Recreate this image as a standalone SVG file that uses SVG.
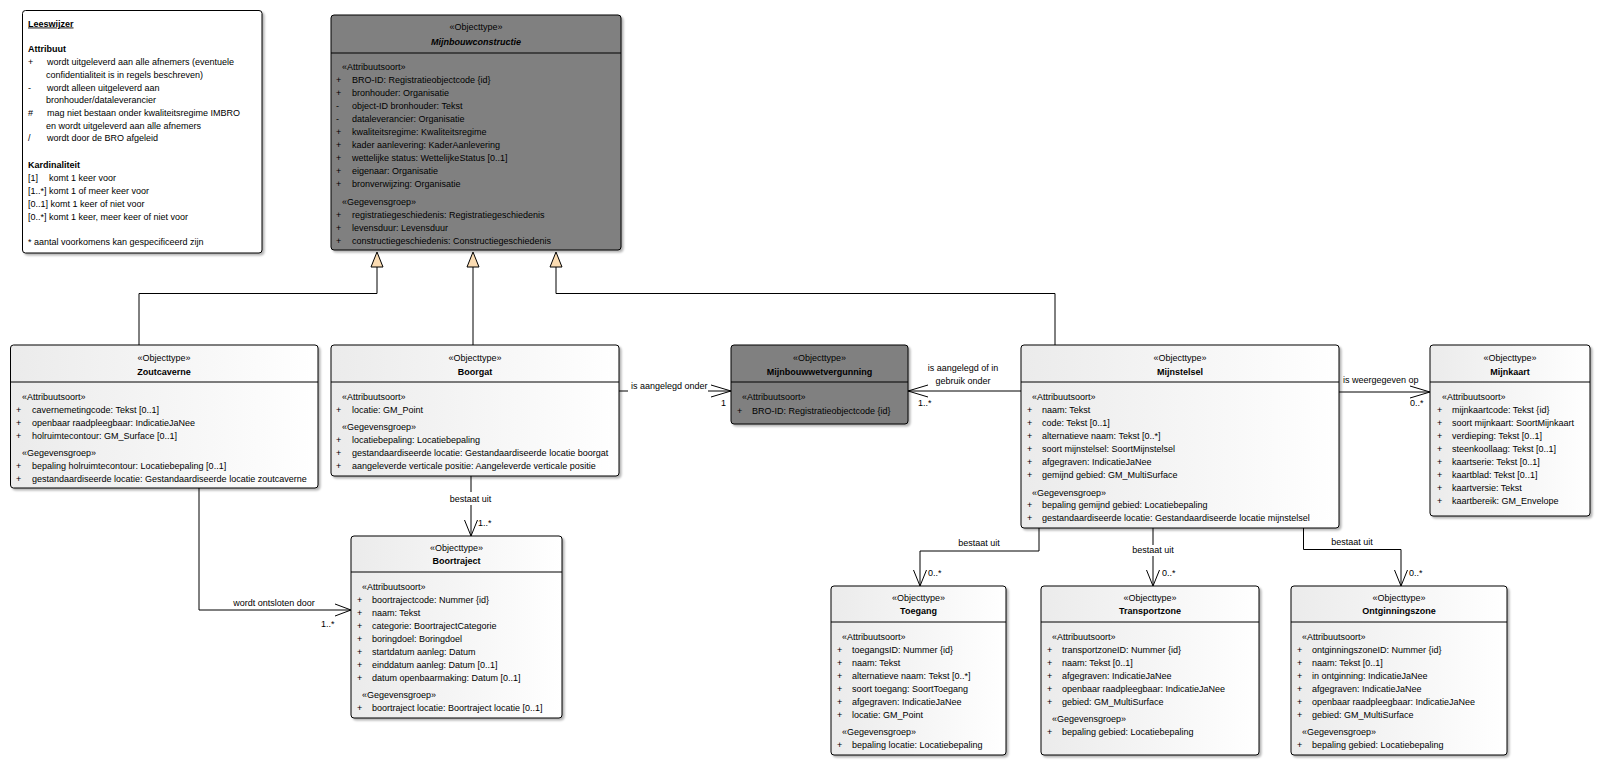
<svg xmlns="http://www.w3.org/2000/svg" width="1601" height="779" viewBox="0 0 1601 779">
<defs>
<linearGradient id="g" x1="0" y1="0" x2="1" y2="0">
<stop offset="0" stop-color="#ebebeb"/>
<stop offset="1" stop-color="#ffffff"/>
</linearGradient>
<filter id="sh" x="-5%" y="-5%" width="110%" height="115%">
<feDropShadow dx="2" dy="2" stdDeviation="1" flood-color="#000" flood-opacity="0.3"/>
</filter>
<style>
text{font-family:"Liberation Sans",Arial,sans-serif;font-size:9px;fill:#000}
.c{text-anchor:middle}
.b{font-weight:bold}
.box{fill:url(#g);stroke:#000;stroke-width:1;filter:url(#sh)}
.dark{fill:#808080;stroke:#000;stroke-width:1;filter:url(#sh)}
.note{fill:#fff;stroke:#000;stroke-width:1;filter:url(#sh)}
.sep{stroke:#000;stroke-width:1}
.ln{stroke:#000;stroke-width:1;fill:none}
.tri{fill:#fbdcb2;stroke:#000;stroke-width:1}
</style>
</defs>
<rect width="1601" height="779" fill="#fff"/>

<g id="leeswijzer">
<rect class="note" x="22.5" y="10.5" width="239.5" height="242.5" rx="3"/>
<text x="28" y="26.5" class="b" text-decoration="underline">Leeswijzer</text>
<text x="28" y="51.5" class="b">Attribuut</text>
<text x="28" y="65">+</text><text x="47" y="65">wordt uitgeleverd aan alle afnemers (eventuele</text>
<text x="46" y="77.5">confidentialiteit is in regels beschreven)</text>
<text x="28" y="90.5">-</text><text x="47" y="90.5">wordt alleen uitgeleverd aan</text>
<text x="46" y="103">bronhouder/dataleverancier</text>
<text x="28" y="116">#</text><text x="47" y="116">mag niet bestaan onder kwaliteitsregime IMBRO</text>
<text x="46" y="128.5">en wordt uitgeleverd aan alle afnemers</text>
<text x="28" y="141">/</text><text x="47" y="141">wordt door de BRO afgeleid</text>
<text x="28" y="168" class="b">Kardinaliteit</text>
<text x="28" y="181">[1]</text><text x="49" y="181">komt 1 keer voor</text>
<text x="28" y="194">[1..*] komt 1 of meer keer voor</text>
<text x="28" y="206.5">[0..1] komt 1 keer of niet voor</text>
<text x="28" y="219.5">[0..*] komt 1 keer, meer keer of niet voor</text>
<text x="28" y="245">* aantal voorkomens kan gespecificeerd zijn</text>
</g>

<g id="connectors">
<polyline class="ln" points="139,345 139,293.5 377,293.5 377,267"/>
<polygon class="tri" points="377,252 371,267 383,267"/>
<line class="ln" x1="473" y1="345" x2="473" y2="267"/>
<polygon class="tri" points="473,252 467,267 479,267"/>
<polyline class="ln" points="1055,345 1055,293.5 556,293.5 556,267"/>
<polygon class="tri" points="556,252 550,267 562,267"/>

<line class="ln" x1="619" y1="391" x2="628" y2="391"/>
<line class="ln" x1="708" y1="391" x2="731" y2="391"/>
<polyline class="ln" points="711,385 731,391 711,397"/>
<text x="631" y="389">is aangelegd onder</text>
<text x="721" y="405.5">1</text>

<line class="ln" x1="1021" y1="391" x2="908" y2="391"/>
<polyline class="ln" points="928,385 908,391 928,397"/>
<text x="963" y="370.5" class="c">is aangelegd of in</text>
<text x="963" y="384" class="c">gebruik onder</text>
<text x="918" y="405.5">1..*</text>

<line class="ln" x1="1339" y1="392" x2="1430" y2="392"/>
<polyline class="ln" points="1410,386 1430,392 1410,398"/>
<text x="1343" y="383">is weergegeven op</text>
<text x="1410" y="405.5">0..*</text>

<line class="ln" x1="471" y1="476" x2="471" y2="492"/>
<line class="ln" x1="471" y1="505" x2="471" y2="536"/>
<polyline class="ln" points="464.5,520 471,536 477.5,520"/>
<text x="470.5" y="502" class="c">bestaat uit</text>
<text x="478" y="526">1..*</text>

<polyline class="ln" points="199,488 199,610 351,610"/>
<polyline class="ln" points="335,604 351,610 335,616"/>
<text x="274" y="605.5" class="c">wordt ontsloten door</text>
<text x="321" y="627">1..*</text>

<polyline class="ln" points="1039,528 1039,551 920,551 920,586"/>
<polyline class="ln" points="913.5,570 920,586 926.5,570"/>
<text x="979" y="546" class="c">bestaat uit</text>
<text x="928" y="576">0..*</text>

<line class="ln" x1="1153" y1="528" x2="1153" y2="545"/>
<line class="ln" x1="1153" y1="556" x2="1153" y2="586"/>
<polyline class="ln" points="1146.5,570 1153,586 1159.5,570"/>
<text x="1153" y="553" class="c">bestaat uit</text>
<text x="1162" y="576">0..*</text>

<polyline class="ln" points="1303.5,528 1303.5,549.5 1401,549.5 1401,586"/>
<polyline class="ln" points="1394.5,570 1401,586 1407.5,570"/>
<text x="1352" y="545" class="c">bestaat uit</text>
<text x="1409" y="576">0..*</text>
</g>

<g id="mijnbouwconstructie">
<rect class="dark" x="331" y="15" width="290" height="235" rx="3"/>
<line class="sep" x1="331" y1="53" x2="621" y2="53"/>
<text x="476" y="30" class="c">«Objecttype»</text>
<text x="476" y="45" class="c b" font-style="italic">Mijnbouwconstructie</text>
<text x="342" y="70">«Attribuutsoort»</text>
<text x="336" y="83">+</text><text x="352" y="83">BRO-ID: Registratieobjectcode {id}</text>
<text x="336" y="96">+</text><text x="352" y="96">bronhouder: Organisatie</text>
<text x="336" y="109">-</text><text x="352" y="109">object-ID bronhouder: Tekst</text>
<text x="336" y="122">-</text><text x="352" y="122">dataleverancier: Organisatie</text>
<text x="336" y="135">+</text><text x="352" y="135">kwaliteitsregime: Kwaliteitsregime</text>
<text x="336" y="148">+</text><text x="352" y="148">kader aanlevering: KaderAanlevering</text>
<text x="336" y="161">+</text><text x="352" y="161">wettelijke status: WettelijkeStatus [0..1]</text>
<text x="336" y="174">+</text><text x="352" y="174">eigenaar: Organisatie</text>
<text x="336" y="187">+</text><text x="352" y="187">bronverwijzing: Organisatie</text>
<text x="342" y="205">«Gegevensgroep»</text>
<text x="336" y="217.5">+</text><text x="352" y="217.5">registratiegeschiedenis: Registratiegeschiedenis</text>
<text x="336" y="230.5">+</text><text x="352" y="230.5">levensduur: Levensduur</text>
<text x="336" y="243.5">+</text><text x="352" y="243.5">constructiegeschiedenis: Constructiegeschiedenis</text>
</g>

<g id="zoutcaverne">
<rect class="box" x="10.5" y="345" width="307.5" height="143" rx="3"/>
<line class="sep" x1="10.5" y1="382" x2="318" y2="382"/>
<text x="164" y="361" class="c">«Objecttype»</text>
<text x="164" y="375" class="c b">Zoutcaverne</text>
<text x="22" y="400">«Attribuutsoort»</text>
<text x="16" y="413">+</text><text x="32" y="413">cavernemetingcode: Tekst [0..1]</text>
<text x="16" y="426">+</text><text x="32" y="426">openbaar raadpleegbaar: IndicatieJaNee</text>
<text x="16" y="439">+</text><text x="32" y="439">holruimtecontour: GM_Surface [0..1]</text>
<text x="22" y="456">«Gegevensgroep»</text>
<text x="16" y="469">+</text><text x="32" y="469">bepaling holruimtecontour: Locatiebepaling [0..1]</text>
<text x="16" y="482">+</text><text x="32" y="482">gestandaardiseerde locatie: Gestandaardiseerde locatie zoutcaverne</text>
</g>

<g id="boorgat">
<rect class="box" x="331" y="345" width="288" height="131" rx="3"/>
<line class="sep" x1="331" y1="382" x2="619" y2="382"/>
<text x="475" y="361" class="c">«Objecttype»</text>
<text x="475" y="374.5" class="c b">Boorgat</text>
<text x="342" y="400">«Attribuutsoort»</text>
<text x="336" y="413">+</text><text x="352" y="413">locatie: GM_Point</text>
<text x="342" y="430">«Gegevensgroep»</text>
<text x="336" y="442.5">+</text><text x="352" y="442.5">locatiebepaling: Locatiebepaling</text>
<text x="336" y="455.5">+</text><text x="352" y="455.5">gestandaardiseerde locatie: Gestandaardiseerde locatie boorgat</text>
<text x="336" y="469">+</text><text x="352" y="469">aangeleverde verticale positie: Aangeleverde verticale positie</text>
</g>

<g id="mijnbouwwetvergunning">
<rect class="dark" x="731" y="345" width="177" height="79" rx="3"/>
<line class="sep" x1="731" y1="382" x2="908" y2="382"/>
<text x="819.5" y="361" class="c">«Objecttype»</text>
<text x="819.5" y="375" class="c b">Mijnbouwwetvergunning</text>
<text x="742" y="400">«Attribuutsoort»</text>
<text x="737" y="414">+</text><text x="752" y="414">BRO-ID: Registratieobjectcode {id}</text>
</g>

<g id="mijnstelsel">
<rect class="box" x="1021" y="345" width="318" height="183" rx="3"/>
<line class="sep" x1="1021" y1="382" x2="1339" y2="382"/>
<text x="1180" y="361" class="c">«Objecttype»</text>
<text x="1180" y="375" class="c b">Mijnstelsel</text>
<text x="1032" y="400">«Attribuutsoort»</text>
<text x="1027" y="413">+</text><text x="1042" y="413">naam: Tekst</text>
<text x="1027" y="426">+</text><text x="1042" y="426">code: Tekst [0..1]</text>
<text x="1027" y="439">+</text><text x="1042" y="439">alternatieve naam: Tekst [0..*]</text>
<text x="1027" y="452">+</text><text x="1042" y="452">soort mijnstelsel: SoortMijnstelsel</text>
<text x="1027" y="465">+</text><text x="1042" y="465">afgegraven: IndicatieJaNee</text>
<text x="1027" y="478">+</text><text x="1042" y="478">gemijnd gebied: GM_MultiSurface</text>
<text x="1032" y="496">«Gegevensgroep»</text>
<text x="1027" y="508">+</text><text x="1042" y="508">bepaling gemijnd gebied: Locatiebepaling</text>
<text x="1027" y="521">+</text><text x="1042" y="521">gestandaardiseerde locatie: Gestandaardiseerde locatie mijnstelsel</text>
</g>

<g id="mijnkaart">
<rect class="box" x="1430" y="345" width="160" height="171" rx="3"/>
<line class="sep" x1="1430" y1="382" x2="1590" y2="382"/>
<text x="1510" y="361" class="c">«Objecttype»</text>
<text x="1510" y="375" class="c b">Mijnkaart</text>
<text x="1442" y="400">«Attribuutsoort»</text>
<text x="1437" y="413">+</text><text x="1452" y="413">mijnkaartcode: Tekst {id}</text>
<text x="1437" y="426">+</text><text x="1452" y="426">soort mijnkaart: SoortMijnkaart</text>
<text x="1437" y="439">+</text><text x="1452" y="439">verdieping: Tekst [0..1]</text>
<text x="1437" y="452">+</text><text x="1452" y="452">steenkoollaag: Tekst [0..1]</text>
<text x="1437" y="465">+</text><text x="1452" y="465">kaartserie: Tekst [0..1]</text>
<text x="1437" y="478">+</text><text x="1452" y="478">kaartblad: Tekst [0..1]</text>
<text x="1437" y="491">+</text><text x="1452" y="491">kaartversie: Tekst</text>
<text x="1437" y="504">+</text><text x="1452" y="504">kaartbereik: GM_Envelope</text>
</g>

<g id="boortraject">
<rect class="box" x="351" y="536" width="211" height="182" rx="3"/>
<line class="sep" x1="351" y1="572" x2="562" y2="572"/>
<text x="456.5" y="551" class="c">«Objecttype»</text>
<text x="456.5" y="564" class="c b">Boortraject</text>
<text x="362" y="590">«Attribuutsoort»</text>
<text x="357" y="603">+</text><text x="372" y="603">boortrajectcode: Nummer {id}</text>
<text x="357" y="616">+</text><text x="372" y="616">naam: Tekst</text>
<text x="357" y="629">+</text><text x="372" y="629">categorie: BoortrajectCategorie</text>
<text x="357" y="642">+</text><text x="372" y="642">boringdoel: Boringdoel</text>
<text x="357" y="655">+</text><text x="372" y="655">startdatum aanleg: Datum</text>
<text x="357" y="668">+</text><text x="372" y="668">einddatum aanleg: Datum [0..1]</text>
<text x="357" y="681">+</text><text x="372" y="681">datum openbaarmaking: Datum [0..1]</text>
<text x="362" y="698">«Gegevensgroep»</text>
<text x="357" y="711">+</text><text x="372" y="711">boortraject locatie: Boortraject locatie [0..1]</text>
</g>

<g id="toegang">
<rect class="box" x="831" y="586" width="175" height="169" rx="3"/>
<line class="sep" x1="831" y1="622" x2="1006" y2="622"/>
<text x="918.5" y="601" class="c">«Objecttype»</text>
<text x="918.5" y="614" class="c b">Toegang</text>
<text x="842" y="640">«Attribuutsoort»</text>
<text x="837" y="653">+</text><text x="852" y="653">toegangsID: Nummer {id}</text>
<text x="837" y="666">+</text><text x="852" y="666">naam: Tekst</text>
<text x="837" y="679">+</text><text x="852" y="679">alternatieve naam: Tekst [0..*]</text>
<text x="837" y="692">+</text><text x="852" y="692">soort toegang: SoortToegang</text>
<text x="837" y="705">+</text><text x="852" y="705">afgegraven: IndicatieJaNee</text>
<text x="837" y="718">+</text><text x="852" y="718">locatie: GM_Point</text>
<text x="842" y="735">«Gegevensgroep»</text>
<text x="837" y="748">+</text><text x="852" y="748">bepaling locatie: Locatiebepaling</text>
</g>

<g id="transportzone">
<rect class="box" x="1041" y="586" width="218" height="169" rx="3"/>
<line class="sep" x1="1041" y1="622" x2="1259" y2="622"/>
<text x="1150" y="601" class="c">«Objecttype»</text>
<text x="1150" y="614" class="c b">Transportzone</text>
<text x="1052" y="640">«Attribuutsoort»</text>
<text x="1047" y="653">+</text><text x="1062" y="653">transportzoneID: Nummer {id}</text>
<text x="1047" y="666">+</text><text x="1062" y="666">naam: Tekst [0..1]</text>
<text x="1047" y="679">+</text><text x="1062" y="679">afgegraven: IndicatieJaNee</text>
<text x="1047" y="692">+</text><text x="1062" y="692">openbaar raadpleegbaar: IndicatieJaNee</text>
<text x="1047" y="705">+</text><text x="1062" y="705">gebied: GM_MultiSurface</text>
<text x="1052" y="722">«Gegevensgroep»</text>
<text x="1047" y="735">+</text><text x="1062" y="735">bepaling gebied: Locatiebepaling</text>
</g>

<g id="ontginningszone">
<rect class="box" x="1291" y="586" width="216" height="169" rx="3"/>
<line class="sep" x1="1291" y1="622" x2="1507" y2="622"/>
<text x="1399" y="601" class="c">«Objecttype»</text>
<text x="1399" y="614" class="c b">Ontginningszone</text>
<text x="1302" y="640">«Attribuutsoort»</text>
<text x="1297" y="653">+</text><text x="1312" y="653">ontginningszoneID: Nummer {id}</text>
<text x="1297" y="666">+</text><text x="1312" y="666">naam: Tekst [0..1]</text>
<text x="1297" y="679">+</text><text x="1312" y="679">in ontginning: IndicatieJaNee</text>
<text x="1297" y="692">+</text><text x="1312" y="692">afgegraven: IndicatieJaNee</text>
<text x="1297" y="705">+</text><text x="1312" y="705">openbaar raadpleegbaar: IndicatieJaNee</text>
<text x="1297" y="718">+</text><text x="1312" y="718">gebied: GM_MultiSurface</text>
<text x="1302" y="735">«Gegevensgroep»</text>
<text x="1297" y="748">+</text><text x="1312" y="748">bepaling gebied: Locatiebepaling</text>
</g>
</svg>
